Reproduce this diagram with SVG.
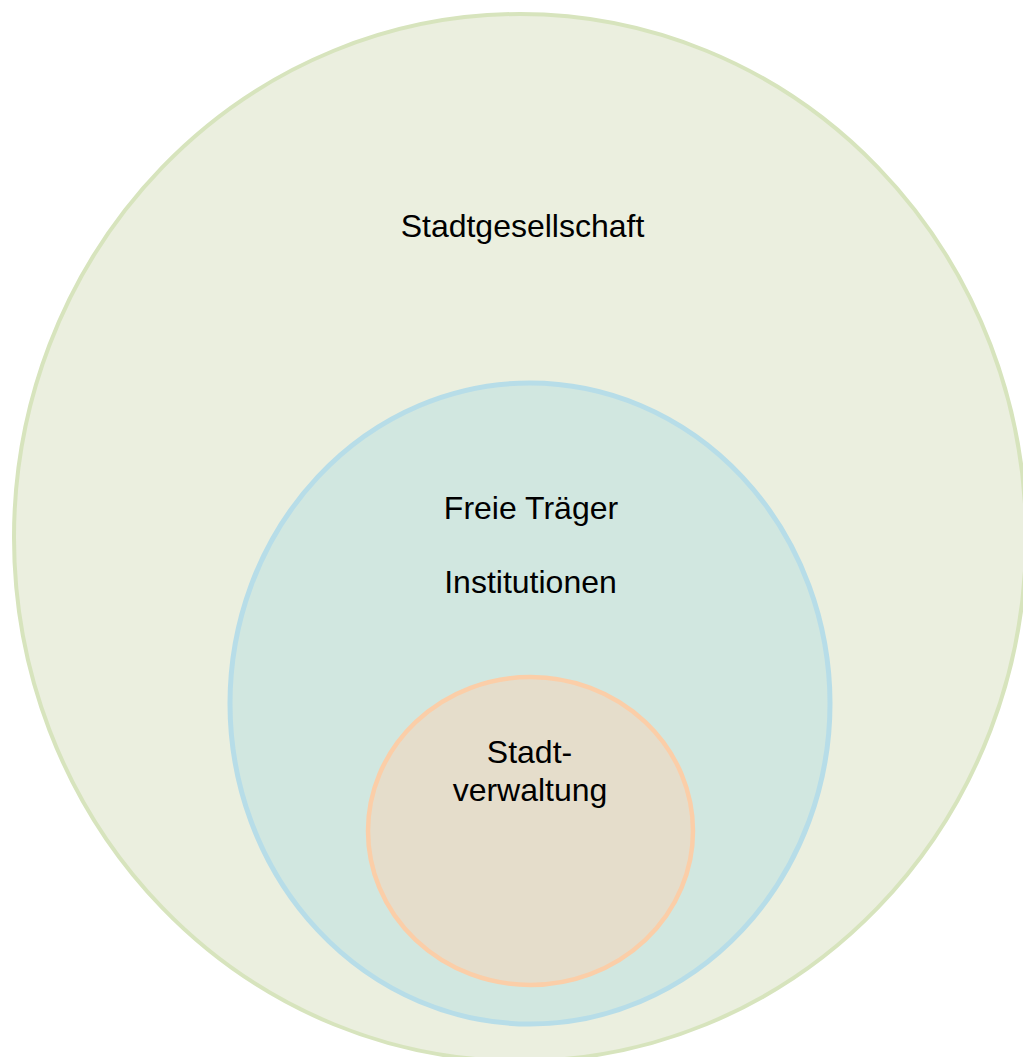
<svg xmlns="http://www.w3.org/2000/svg" width="1023" height="1057" viewBox="0 0 1023 1057">
<style>
text{font-family:"Liberation Sans",Arial,sans-serif;font-size:32px;fill:#000;text-anchor:middle}
</style>
<rect width="1023" height="1057" fill="#fff"/>
<g id="stadtgesellschaft">
<ellipse cx="520" cy="537.5" rx="506" ry="523.5" fill="#EBEFDF" stroke="#D7E4BD" stroke-width="4"/>
<text x="522.5" y="237">Stadtgesellschaft</text>
</g>
<g id="freie-traeger">
<ellipse cx="530" cy="703.5" rx="300" ry="320.5" fill="#D1E7E0" stroke="#B7DDE8" stroke-width="5"/>
<text x="531" y="519">Freie Träger</text>
<text x="530.5" y="593">Institutionen</text>
</g>
<g id="stadtverwaltung">
<ellipse cx="530.5" cy="831" rx="162.5" ry="154" fill="#E5DDCB" stroke="#FBCEA8" stroke-width="4.5"/>
<text x="529.5" y="763">Stadt-</text>
<text x="530" y="801">verwaltung</text>
</g>
<g id="connectors"/>
</svg>
